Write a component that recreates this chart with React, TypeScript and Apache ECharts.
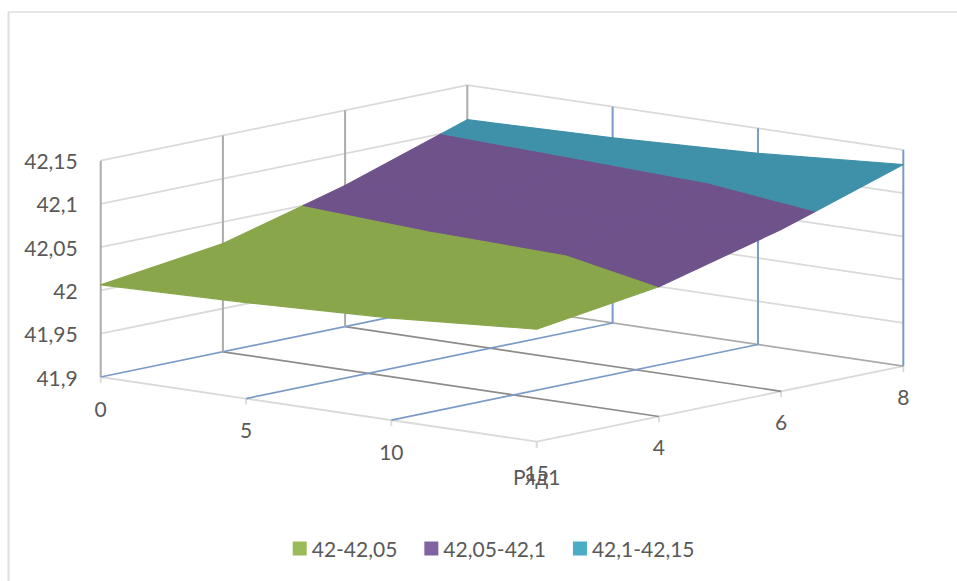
import React, { useEffect, useRef } from "react";
import * as echarts from "echarts";

// ---- data ----
const xValues = [0, 5, 10, 15];
const depthLabels = ["Ряд1", "4", "6", "8"];
const zTicks = [41.9, 41.95, 42, 42.05, 42.1, 42.15];
const row0 = [42.0065, 42.011, 42.018, 42.03];
const row1 = [42.025, 42.03, 42.034, 42.05];
const row2 = [42.063, 42.07, 42.072, 42.087];
const row3 = [42.11, 42.114, 42.121, 42.133];
const rows = [row0, row1, row2, row3];
const bandNames = ["42-42,05", "42,05-42,1", "42,1-42,15"];
const bandLows = [42, 42.05, 42.1];
const bandHighs = [42.05, 42.1, 42.15];
const legendColors = ["#9bbb59", "#8064a2", "#4bacc6"];
const surfaceColors = ["#8aa64b", "#70528b", "#3f91a9"];

// ---- oblique view: one depth step and the full x run, in pixels ----
const DEPTH_DX = 122.2;
const DEPTH_DY = -25.2;
const X_SKEW = 64.7;
const X_MAX = xValues[xValues.length - 1];

const FONT = "Lato";
const FONT_SIZE = 21;
const TEXT = "#595959";
const GRID = "#dadada";
const GRAY = "#ababab";
const BROWN = "#8f8b88";
const BLUE = "#7a9bc8";

type P = { x: number; d: number; z: number };

function clipBand(poly: P[], lo: number, hi: number): P[] {
  const clip = (pts: P[], inside: (p: P) => boolean, level: number) => {
    const out: P[] = [];
    for (let i = 0; i < pts.length; i++) {
      const a = pts[i];
      const b = pts[(i + 1) % pts.length];
      if (inside(a)) out.push(a);
      if (inside(a) !== inside(b)) {
        const t = (level - a.z) / (b.z - a.z);
        out.push({ x: a.x + (b.x - a.x) * t, d: a.d + (b.d - a.d) * t, z: level });
      }
    }
    return out;
  };
  return clip(clip(poly, (p) => p.z >= lo, lo), (p) => p.z <= hi, hi);
}

const cells: number[][] = [];
for (let j = 0; j < rows.length - 1; j++) {
  for (let i = 0; i < xValues.length - 1; i++) cells.push([i, j]);
}

export default function App() {
  const ref = useRef<HTMLDivElement>(null);
  useEffect(() => {
    const chart = echarts.init(ref.current!, undefined, { renderer: "svg" });
    const projector = (api: any) => (x: number, d: number, z: number) => {
      const p = api.coord([x, z]);
      return [p[0] + d * DEPTH_DX, p[1] + (x / X_MAX) * X_SKEW + d * DEPTH_DY];
    };
    const line = (a: number[], b: number[], stroke: string, lineWidth: number) => ({
      type: "line",
      shape: { x1: a[0], y1: a[1], x2: b[0], y2: b[1] },
      style: { stroke, lineWidth },
      silent: true,
    });
    const label = (text: string, p: number[], dy: number) => ({
      type: "text",
      x: p[0],
      y: p[1] + dy,
      silent: true,
      style: {
        text,
        align: "center",
        verticalAlign: "middle",
        fontFamily: FONT,
        fontSize: FONT_SIZE,
        fill: TEXT,
      },
    });
    const zMin = zTicks[0];
    const zMax = zTicks[zTicks.length - 1];
    const lastD = depthLabels.length - 1;

    const renderFrame = (_: any, api: any) => {
      const P = projector(api);
      const ch: any[] = [];
      // wall gridlines
      zTicks.slice(1).forEach((z) => {
        ch.push(line(P(0, 0, z), P(0, lastD, z), GRID, 1.8));
        ch.push(line(P(0, lastD, z), P(X_MAX, lastD, z), GRID, 1.8));
      });
      // outer floor edges and ticks
      ch.push(line(P(0, 0, zMin), P(X_MAX, 0, zMin), GRID, 1.8));
      ch.push(line(P(X_MAX, 0, zMin), P(X_MAX, lastD, zMin), GRID, 1.8));
      xValues.forEach((x) => {
        const p = P(x, 0, zMin);
        ch.push(line(p, [p[0], p[1] + 6], GRID, 1.8));
      });
      depthLabels.forEach((_l, d) => {
        const p = P(X_MAX, d, zMin);
        ch.push(line(p, [p[0], p[1] + 6], GRID, 1.8));
      });
      // floor lines
      depthLabels.forEach((_l, d) => {
        if (d > 0) ch.push(line(P(0, d, zMin), P(X_MAX, d, zMin), d === lastD ? GRAY : BROWN, 1.7));
      });
      xValues.slice(0, -1).forEach((x) => {
        ch.push(line(P(x, 0, zMin), P(x, lastD, zMin), BLUE, 1.7));
      });
      // wall verticals
      depthLabels.forEach((_l, d) => {
        ch.push(line(P(0, d, zMin), P(0, d, zMax), GRAY, 2));
      });
      xValues.slice(1).forEach((x) => {
        ch.push(line(P(x, lastD, zMin), P(x, lastD, zMax), BLUE, 2));
      });
      // category labels
      xValues.forEach((x) => ch.push(label(String(x), P(x, 0, zMin), 31)));
      depthLabels.forEach((l, d) => {
        ch.push(label(l, P(X_MAX, d, zMin), d === 0 ? 35 : 30));
      });
      return { type: "group", children: ch };
    };

    const renderBand = (b: number) => (_: any, api: any) => {
      const P = projector(api);
      const i = api.value(0);
      const j = api.value(1);
      const quad: P[] = [
        { x: xValues[i], d: j, z: rows[j][i] },
        { x: xValues[i + 1], d: j, z: rows[j][i + 1] },
        { x: xValues[i + 1], d: j + 1, z: rows[j + 1][i + 1] },
        { x: xValues[i], d: j + 1, z: rows[j + 1][i] },
      ];
      const poly = clipBand(quad, bandLows[b], bandHighs[b]);
      if (poly.length < 3) return null;
      return {
        type: "polygon",
        shape: { points: poly.map((p) => P(p.x, p.d, p.z)) },
        style: { fill: surfaceColors[b], stroke: surfaceColors[b], lineWidth: 1.2, lineJoin: "round" },
        silent: true,
      };
    };

    chart.setOption({
      animation: false,
      backgroundColor: "#ffffff",
      textStyle: { fontFamily: FONT },
      grid: { left: 100.7, top: 160.7, width: 436, height: 216.3, containLabel: false },
      xAxis: { type: "value", min: 0, max: X_MAX, show: false },
      yAxis: {
        type: "value",
        min: zMin,
        max: zMax,
        interval: 0.05,
        axisLine: { show: false },
        axisTick: { show: false },
        splitLine: { show: false },
        axisLabel: {
          margin: 23,
          fontFamily: FONT,
          fontSize: FONT_SIZE,
          color: TEXT,
          formatter: (v: number) => String(+v.toFixed(2)).replace(".", ","),
        },
      },
      legend: {
        data: bandNames,
        left: 292.7,
        top: 538,
        itemWidth: 14,
        itemHeight: 14,
        itemGap: 27,
        icon: "rect",
        selectedMode: false,
        padding: 0,
        textStyle: { fontFamily: FONT, fontSize: FONT_SIZE, color: TEXT },
      },
      graphic: [
        { type: "line", shape: { x1: 8.5, y1: 12, x2: 8.5, y2: 581 }, style: { stroke: "#dedede", lineWidth: 2 }, silent: true },
        { type: "line", shape: { x1: 8, y1: 12, x2: 957, y2: 12 }, style: { stroke: "#dedede", lineWidth: 1.6 }, silent: true },
      ],
      series: [
        {
          type: "custom",
          name: "frame",
          coordinateSystem: "cartesian2d",
          clip: false,
          silent: true,
          z: 1,
          data: [[0, zMin]],
          renderItem: renderFrame,
        },
        ...bandNames.map((name, b) => ({
          type: "custom",
          name,
          coordinateSystem: "cartesian2d",
          clip: false,
          silent: true,
          z: 2,
          itemStyle: { color: legendColors[b] },
          encode: { x: 0, y: 1 },
          data: cells,
          renderItem: renderBand(b),
        })),
      ],
    });
    return () => chart.dispose();
  }, []);
  return (
    <div
      ref={ref}
      style={{ position: "fixed", left: 0, top: 0, width: 957, height: 581 }}
    />
  );
}
